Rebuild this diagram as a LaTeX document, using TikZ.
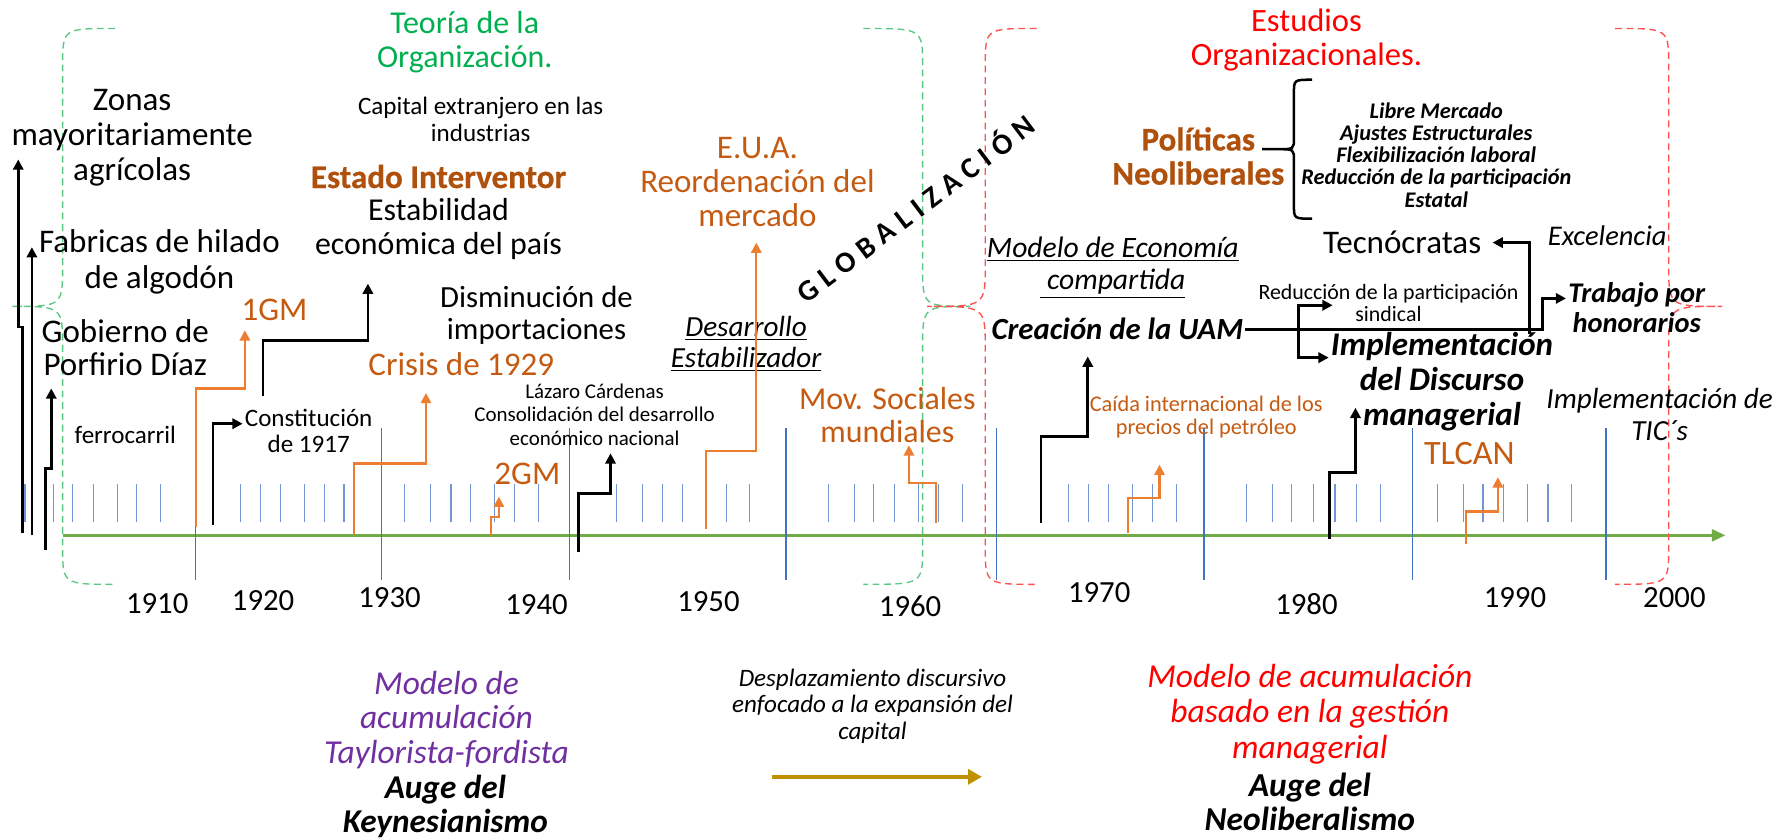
\documentclass[tikz,border=0pt]{standalone}
\usepackage{fontspec}
\setmainfont{Carlito}
\usepackage{tikz}
\usetikzlibrary{arrows.meta,positioning}

\definecolor{txtorange}{RGB}{197,90,17}
\definecolor{arroworange}{RGB}{237,125,49}
\definecolor{estadocol}{RGB}{175,80,12}
\definecolor{teogreen}{RGB}{0,176,80}
\definecolor{axisgreen}{RGB}{112,173,71}
\definecolor{tickblue}{RGB}{68,114,196}
\definecolor{bracegreen}{RGB}{90,200,130}
\definecolor{bracered}{RGB}{255,80,80}
\definecolor{purpletxt}{RGB}{112,48,160}
\definecolor{goldline}{RGB}{191,144,0}

\begin{document}
\begin{tikzpicture}[x=0.5pt, y=-0.5pt,
    txt/.style={align=center, inner sep=0pt, outer sep=1pt},
    bigtxt/.style={txt, font=\fontsize{14.5}{15.5}\selectfont},
    midtxt/.style={txt, font=\fontsize{11}{12}\selectfont},
    smalltxt/.style={txt, font=\fontsize{9.2}{10.25}\selectfont},
    yeartxt/.style={txt, font=\fontsize{13.5}{16}\selectfont},
    orangetxt/.style={text=txtorange},
    boldorange/.style={txt, text=estadocol, font=\fontsize{14.5}{15}\selectfont\bfseries\addfontfeature{FakeBold=0.6}},
    barrow/.style={-{Triangle[length=4.5pt,width=4.5pt]}, line width=1.2pt, black},
    oarrow/.style={-{Triangle[length=4.5pt,width=4.5pt]}, line width=1pt, arroworange},
    longtick/.style={tickblue, line width=0.5pt},
    shorttick/.style={tickblue!75, line width=0.5pt},
    bracket/.style={dashed, dash pattern=on 3pt off 2pt, line width=0.6pt}]

    \useasboundingbox (0,0) rectangle (1568,737);

    % Time axis with decade marks
    \coordinate (axstart) at (55,470);
    \coordinate (axend) at (1515,470);
    \draw[-{Triangle[length=6pt,width=5pt]}, line width=1.5pt, axisgreen] (axstart) -- (axend);
    \foreach \x in {172,335,500,690,875,1057,1240,1410}
        \draw[longtick] (\x,376) -- (\x,509);
    \foreach \x in {22,47,64,82,103,120,141, 211,229,246,267,285,302, 355,378,396,413,434,452,473,
                    541,564,582,599,638,658, 727,750,767,785,806,824,845, 938,956,973,994,1012,1033,
                    1094,1117,1134,1153,1172,1191,1212, 1262,1285,1302,1320,1341,1359,1380}
        \draw[shorttick] (\x,425) -- (\x,458);

    % Year labels - along the bottom
    \foreach \yr/\x/\y in {1910/138/530, 1920/231/527, 1930/342/525, 1940/471/531, 1950/622/528,
                           1960/799/532, 1970/965/520, 1980/1147/530, 1990/1330/525, 2000/1470/525}
        \node[yeartxt] (y\yr) at (\x,\y) {\yr};

    % Dashed braces round the two periods
    \foreach \vx/\tx/\ex/\col in {55/10/101/bracegreen, 810/852/758/bracegreen,
                                  865/814/910/bracered, 1465/1512/1418/bracered}
        \draw[bracket, draw=\col] (\ex,25) .. controls (\vx,25) .. (\vx,58) -- (\vx,232)
            .. controls (\vx,269) .. (\tx,269) .. controls (\vx,269) .. (\vx,306)
            -- (\vx,480) .. controls (\vx,513) .. (\ex,513);

    % Left period - Teoria de la Organizacion
    \node[bigtxt, font=\fontsize{14}{15.25}\selectfont, text=teogreen] (teoria) at (408,37) {Teoría de la\\Organización.};
    \node[bigtxt] (zonas) at (116,121) {Zonas\\mayoritariamente\\agrícolas};
    \node[midtxt] (capital) at (422,105) {Capital extranjero en las\\industrias};
    \node[boldorange] (estado) at (385,155) {Estado Interventor};
    \node[bigtxt, font=\fontsize{14}{15}\selectfont] (estab) at (385,201) {Estabilidad\\económica del país};
    \node[bigtxt] (fabricas) at (140,230) {Fabricas de hilado\\de algodón};
    \node[bigtxt, font=\fontsize{14.5}{14.5}\selectfont] (gobierno) at (110,305) {Gobierno de\\Porfirio Díaz};
    \node[bigtxt, orangetxt] (gm1) at (241,272) {1GM};
    \node[bigtxt, font=\fontsize{13.5}{14}\selectfont] (dismin) at (471,277) {Disminución de\\importaciones};
    \node[bigtxt, orangetxt] (crisis) at (405,320) {Crisis de 1929};
    \node[midtxt, font=\fontsize{11}{11.5}\selectfont] (constit) at (271,378) {Constitución\\de 1917};
    \node[midtxt] (ferro) at (110,382) {ferrocarril};
    \node[smalltxt] (lazaro) at (522,364) {Lázaro Cárdenas\\Consolidación del desarrollo\\económico nacional};
    \node[bigtxt, orangetxt] (gm2) at (463,416) {2GM};
    \node[bigtxt, font=\fontsize{14.5}{15}\selectfont, orangetxt] (eua) at (665,160) {E.U.A.\\Reordenación del\\mercado};
    \node[bigtxt, font=\fontsize{12.8}{13.5}\selectfont\itshape] (desarrollo) at (655,302) {\underline{Desarrollo}\\\underline{Estabilizador}};
    \node[bigtxt, font=\fontsize{14}{14.5}\selectfont, orangetxt] (movsoc) at (779,364) {Mov. Sociales\\mundiales};

    % Globalizacion across the gap
    \node[txt, rotate=37, font=\fontsize{13}{14}\selectfont\bfseries\addfontfeature{LetterSpace=25}] (glob) at (803,182) {GLOBALIZACIÓN};

    % Right period - Estudios Organizacionales
    \node[bigtxt, font=\fontsize{14.3}{15}\selectfont, text=red] (estudios) at (1147,35) {Estudios\\Organizacionales.};
    \node[boldorange] (politicas) at (1052,137) {Políticas\\Neoliberales};
    \node[smalltxt, font=\fontsize{9.8}{9.8}\selectfont\bfseries\itshape] (neolist) at (1261,136) {Libre Mercado\\Ajustes Estructurales\\Flexibilización laboral\\Reducción de la participación\\Estatal};
    \draw[line width=1.1pt] (1152,70) .. controls (1136,70) .. (1136,82) -- (1136,121) .. controls (1136,131) .. (1122,131) -- (1108,131)
        -- (1122,131) .. controls (1136,131) .. (1136,141) -- (1136,180) .. controls (1136,192) .. (1152,192);
    \node[bigtxt] (tecno) at (1231,213) {Tecnócratas};
    \node[bigtxt, font=\fontsize{12.5}{13}\selectfont\itshape] (excel) at (1411,207) {Excelencia};
    \node[bigtxt, font=\fontsize{13}{14}\selectfont\itshape] (modeco) at (977,235) {\underline{Modelo de Economía}\\\underline{ compartida}};
    \node[smalltxt, font=\fontsize{9.6}{10}\selectfont] (reduc) at (1219,266) {Reducción de la participación\\sindical};
    \node[bigtxt, font=\fontsize{12.5}{13.5}\selectfont\bfseries\itshape] (trabajo) at (1437,270) {Trabajo por\\honorarios};
    \node[bigtxt, font=\fontsize{13.5}{15}\selectfont\bfseries\itshape] (uam) at (981,289) {Creación de la UAM};
    \node[bigtxt, font=\fontsize{14.5}{15.5}\selectfont\bfseries\itshape] (implem) at (1266,335) {Implementación\\del Discurso\\managerial};
    \node[bigtxt, font=\fontsize{12.8}{14}\selectfont\itshape] (tics) at (1457,364) {Implementación de\\TIC´s};
    \node[smalltxt, font=\fontsize{9.8}{10}\selectfont, orangetxt] (caida) at (1059,366) {Caída internacional de los\\precios del petróleo};
    \node[bigtxt, font=\fontsize{15}{16}\selectfont, orangetxt] (tlcan) at (1290,398) {TLCAN};

    % Stepped arrows rising from the axis
    \foreach \nm/\bx/\by/\sy/\tx/\ty/\st in {
        zon/20/468/287/16/140/barrow, fab/28/470/300/28/217/barrow, gob/40/483/411/45/341/barrow,
        gmone/172/463/341/215/290/oarrow, est/231/348/299/323/249/barrow, cri/311/470/407/374/345/oarrow,
        gmtwo/431/471/454/438/436/oarrow, laz/508/485/433/536/398/barrow, usa/620/464/396/664/213/oarrow,
        mov/822/459/424/798/391/oarrow, crea/914/459/383/955/313/barrow, cai/990/468/437/1018/408/oarrow,
        man/1167/473/415/1190/358/barrow, tlc/1287/478/449/1315/419/oarrow}
    {
        \coordinate (\nm-base) at (\bx,\by);
        \coordinate (\nm-tip) at (\tx,\ty);
        \draw[\st] (\nm-base) |- (\tx,\sy) -- (\nm-tip);
    }
    \coordinate (con-base) at (187,461);
    \draw[barrow] (con-base) |- ([yshift=3pt]constit.west);

    % Branches out of Creacion de la UAM
    \coordinate (branch) at (1140,289);
    \coordinate (sind-tip) at (1170,268);
    \coordinate (tec-base) at (1343,293);
    \draw[barrow] (uam.east) -- (1354,289) |- ([yshift=4pt]trabajo.west);
    \draw[barrow] (branch) |- (sind-tip);
    \draw[barrow] (branch) |- ([yshift=10.5pt]implem.west);
    \draw[barrow, shorten >=4pt] (tec-base) |- (tecno.east);

    % Accumulation models - below the axis
    \node[bigtxt, font=\fontsize{14.7}{15.25}\selectfont\itshape, text=purpletxt] (modtay) at (392,632) {Modelo de\\acumulación\\Taylorista-fordista};
    \node[bigtxt, font=\fontsize{14.6}{14.5}\selectfont\bfseries\itshape] (augekey) at (391,708) {Auge del\\Keynesianismo};
    \node[midtxt, font=\fontsize{11}{11.75}\selectfont\itshape] (despl) at (766,620) {Desplazamiento discursivo\\enfocado a la expansión del\\capital};
    \coordinate (dsp-start) at (678,682);
    \coordinate (dsp-end) at (862,682);
    \draw[-{Triangle[length=6pt,width=6.5pt]}, line width=2pt, goldline] (dsp-start) -- (dsp-end);
    \node[bigtxt, font=\fontsize{14.7}{15.5}\selectfont\itshape, text=red] (modman) at (1150,627) {Modelo de acumulación\\basado en la gestión\\managerial};
    \node[bigtxt, font=\fontsize{14.7}{14.5}\selectfont\bfseries\itshape] (augeneo) at (1150,704) {Auge del\\Neoliberalismo};

\end{tikzpicture}
\end{document}
